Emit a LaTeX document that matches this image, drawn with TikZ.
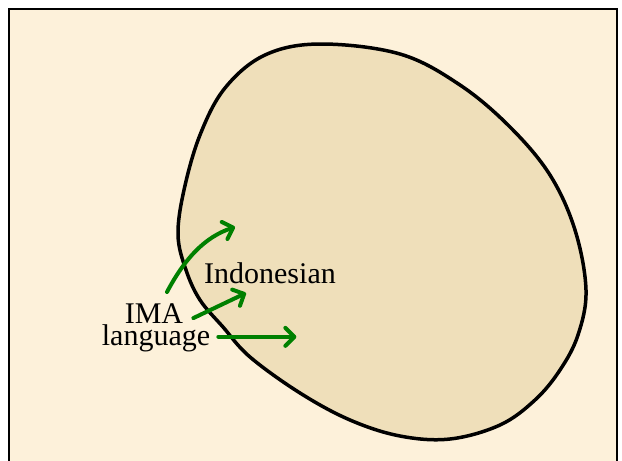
\documentclass[tikz,border=0pt]{standalone}
\usepackage{fontspec}
\setmainfont{Liberation Serif}
\usepackage{xcolor}
\usepackage{tikz}
\usetikzlibrary{positioning,arrows.meta,calc}
\definecolor{paper}{HTML}{FDF1DA}
\definecolor{parch}{HTML}{EFDFBA}
\definecolor{ink}{HTML}{000000}
\definecolor{arrowGr}{HTML}{008000}

\begin{document}
\begin{tikzpicture}[x=1pt, y=-1pt,
    lbl/.style={inner sep=0pt, anchor=base, font=\fontsize{30}{30}\selectfont, text=ink},
    arr/.style={draw=arrowGr, line width=4pt, line cap=round,
                -{Straight Barb[length=9pt, width=18pt, line cap=round, line join=round]}}]
  \useasboundingbox (0,0) rectangle (622,461);
  \fill[paper] (9,9) rectangle (617,461);
  \draw[ink, line width=2pt] (9,461) -- (9,9) -- (617,9) -- (617,461);

  \filldraw[fill=parch, draw=ink, line width=3.5pt]
    plot[smooth cycle, tension=0.6] coordinates {
      (320,44) (400,54) (460,85) (510,127) (550,175) (575,230) (586,290)
      (578,335) (560,370) (535,400) (500,425) (450,439) (400,436) (350,420)
      (300,393) (250,357) (223,327) (200,300) (186,270) (178,235) (184,190)
      (200,135) (225,88) (265,55)};

  \node[lbl] (indo) at (270,283) {Indonesian};
  \node[lbl] (ima) at (154,323) {IMA};
  \node[lbl] (lang) at (156,345) {language};

  \coordinate (tipA) at (235,227);
  \coordinate (tipB) at (246,293);
  \coordinate (fromC) at ([xshift=8pt,yshift=1pt]lang.east);
  \coordinate (tipC) at ($(fromC)+(78,0)$);

  \draw[arr] ([xshift=13pt,yshift=11pt]ima.north) .. controls (185,258) and (205,237) .. (tipA);
  \draw[arr] ([xshift=10pt,yshift=-5pt]ima.east) -- (tipB);
  \draw[arr] (fromC) -- (tipC);
\end{tikzpicture}
\end{document}
